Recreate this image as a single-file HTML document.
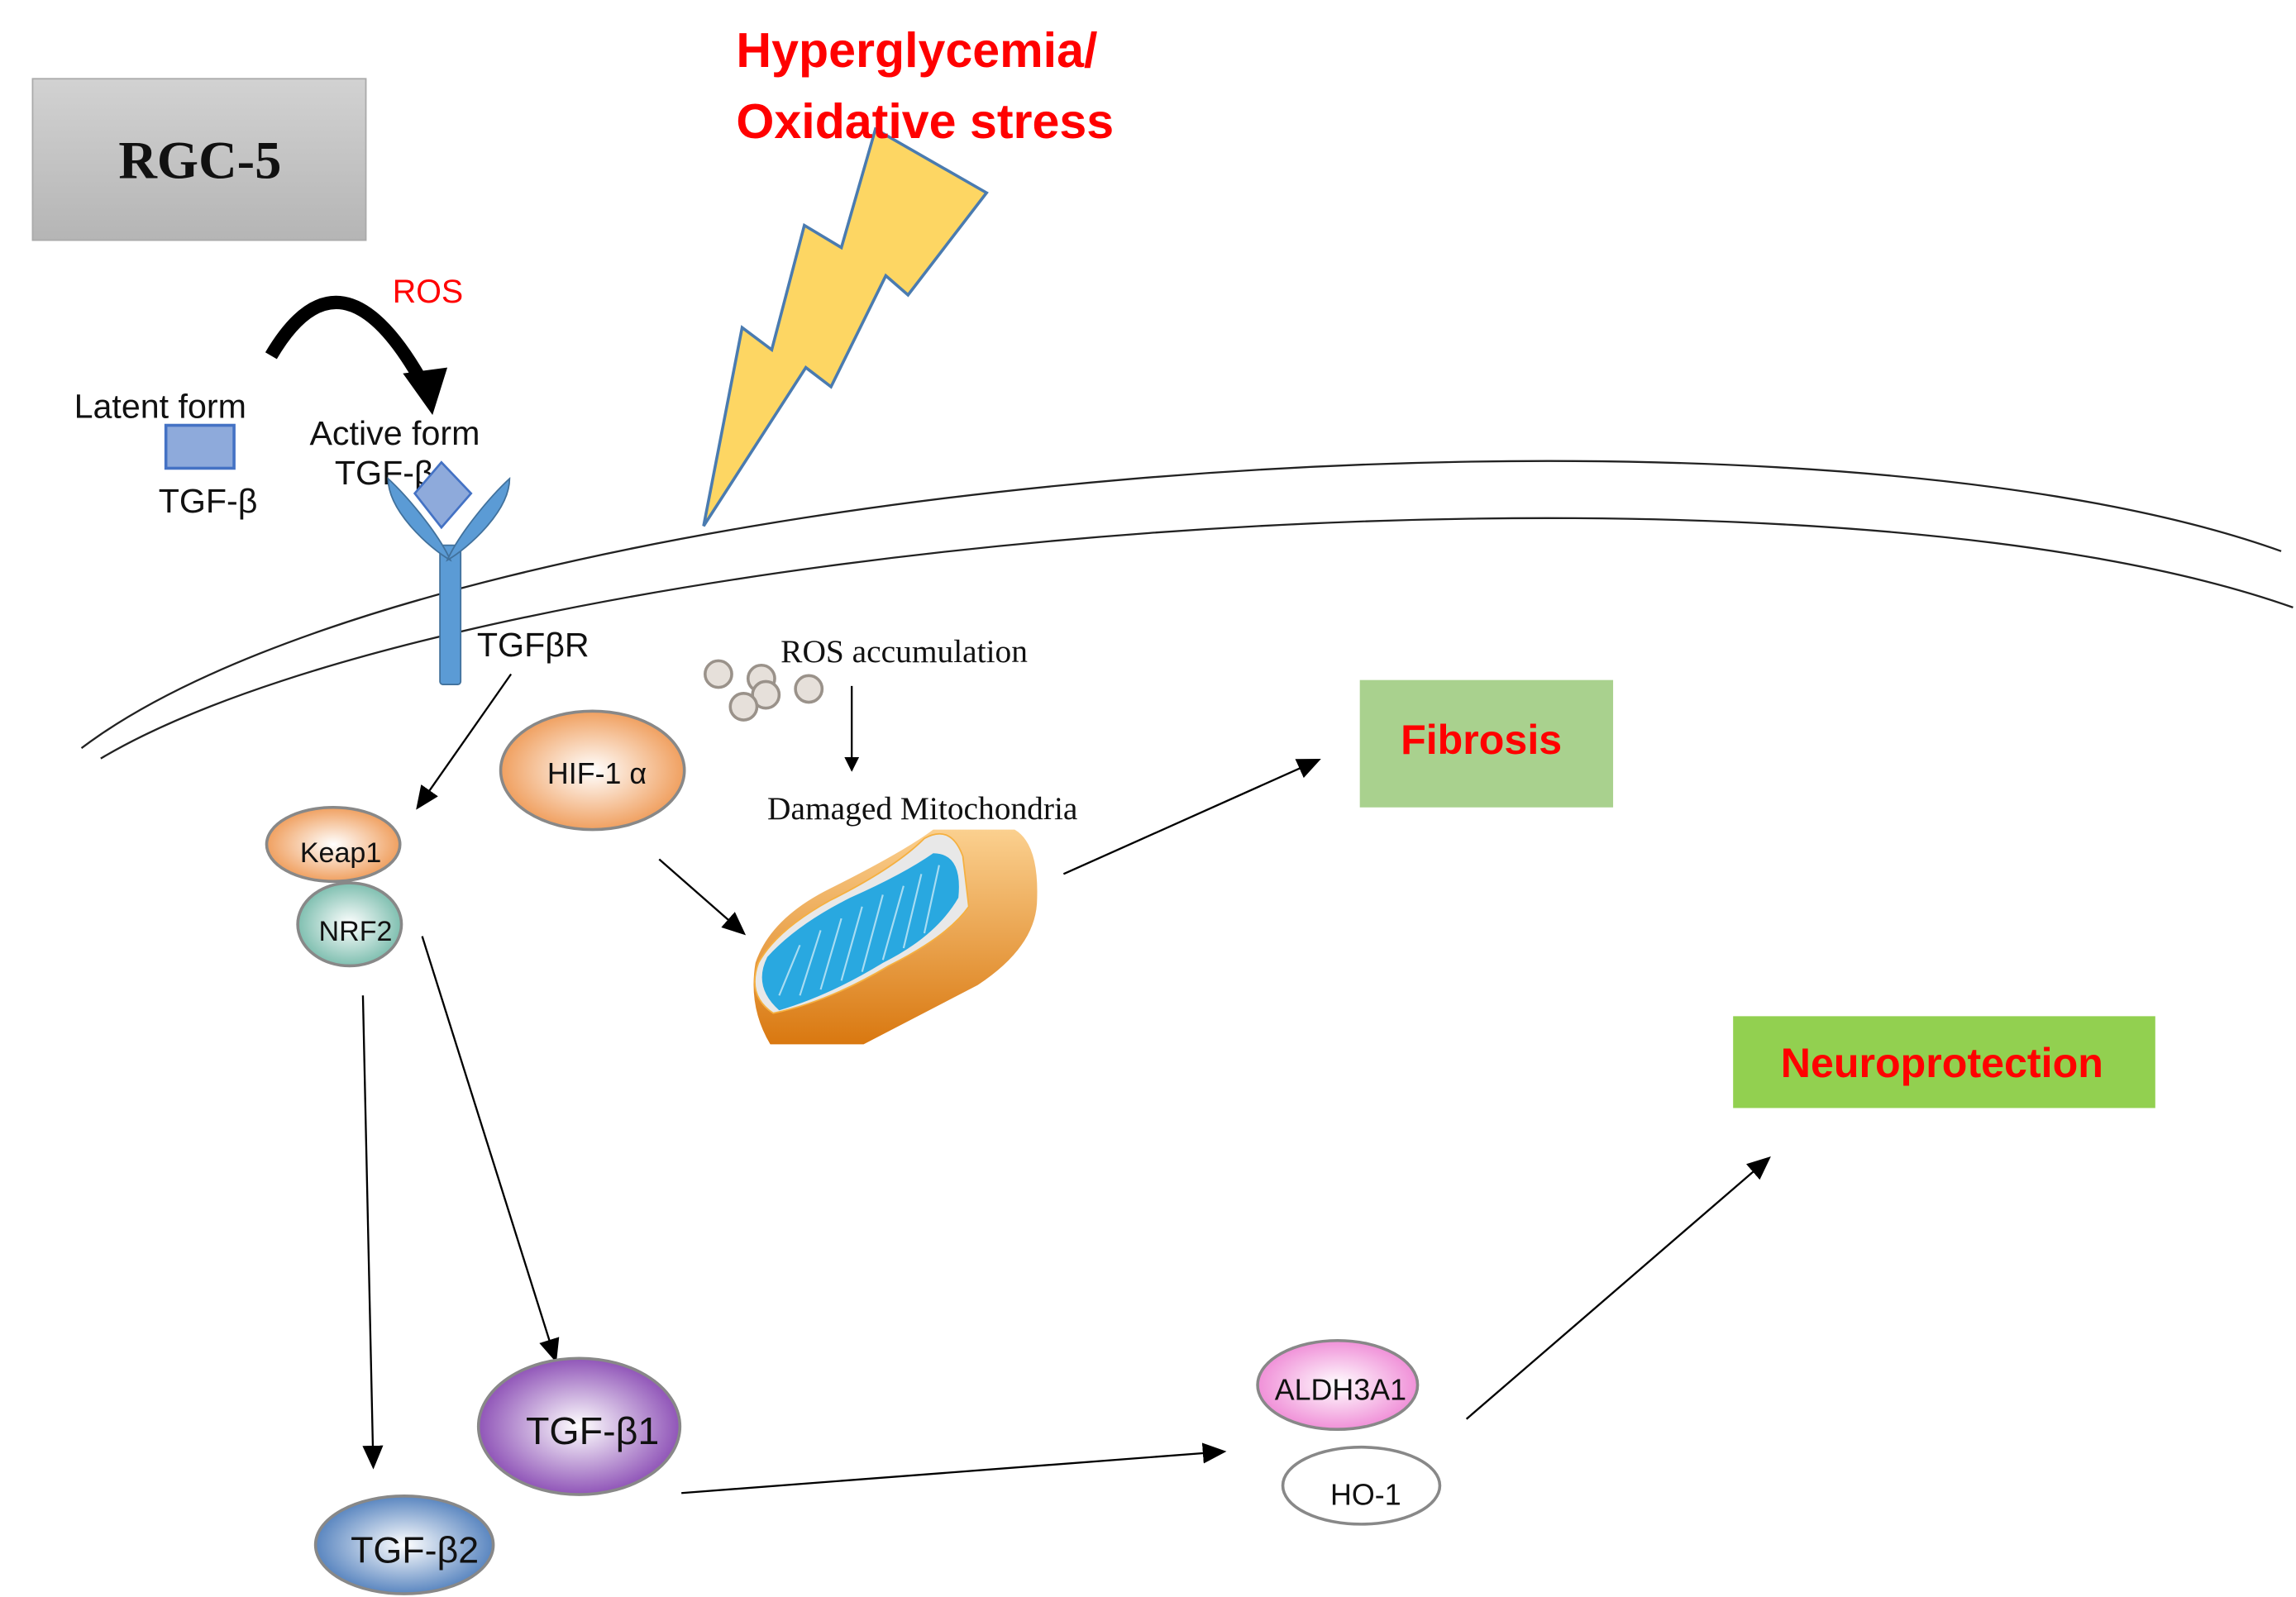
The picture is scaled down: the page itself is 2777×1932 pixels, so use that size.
<!DOCTYPE html>
<html><head><meta charset="utf-8">
<style>
html,body{margin:0;padding:0;background:#fff;}
svg{display:block;}
.sans{font-family:"Liberation Sans",sans-serif;}
.serif{font-family:"Liberation Serif",serif;}
</style></head>
<body>
<svg width="2777" height="1932" viewBox="0 0 1550 1078" xmlns="http://www.w3.org/2000/svg">
<defs>
<marker id="ah" markerWidth="10" markerHeight="10" refX="9" refY="5" orient="auto" markerUnits="userSpaceOnUse" viewBox="0 0 10 10">
<path d="M0,0 L10,5 L0,10 z" fill="#000"/></marker>
<marker id="ah2" markerWidth="16" markerHeight="16" refX="14" refY="8" orient="auto" markerUnits="userSpaceOnUse" viewBox="0 0 16 16">
<path d="M0,1 L16,8 L0,15 z" fill="#000"/></marker>
<linearGradient id="gray" x1="0" y1="0" x2="0" y2="1"><stop offset="0" stop-color="#d2d2d2"/><stop offset="1" stop-color="#b5b5b5"/></linearGradient>
<radialGradient id="org"><stop offset="0" stop-color="#fff"/><stop offset="1" stop-color="#f0a060"/></radialGradient>
<radialGradient id="teal"><stop offset="0" stop-color="#fff"/><stop offset="1" stop-color="#7fbfb0"/></radialGradient>
<radialGradient id="purp"><stop offset="0" stop-color="#fff"/><stop offset="1" stop-color="#9055b8"/></radialGradient>
<radialGradient id="blu"><stop offset="0" stop-color="#fff"/><stop offset="1" stop-color="#5a86c0"/></radialGradient>
<radialGradient id="pink"><stop offset="0" stop-color="#fff"/><stop offset="1" stop-color="#f090d8"/></radialGradient>
<linearGradient id="mito" x1="0" y1="0" x2="0" y2="1"><stop offset="0" stop-color="#fbd08f"/><stop offset="1" stop-color="#d97810"/></linearGradient>
</defs>

<rect x="22" y="53" width="225" height="109" fill="url(#gray)" stroke="#aaa" stroke-width="1"/>
<text x="135" y="120" text-anchor="middle" class="serif" font-size="36" font-weight="bold" fill="#111">RGC-5</text>

<path d="M55,505 C 300,320 1200,250 1540,372" fill="none" stroke="#222" stroke-width="1.3"/>
<path d="M68,512 C 320,362 1210,290 1548,410" fill="none" stroke="#222" stroke-width="1.3"/>

<polygon points="591,87 666,130 613,199 598,186 561,261 544,248 475,355 501,221 521,236 543,152 568,167" fill="#fdd663" stroke="#4a7bb0" stroke-width="2"/>

<text x="497" y="45" class="sans" font-size="33" font-weight="bold" fill="#f00">Hyperglycemia/</text>
<text x="497" y="93" class="sans" font-size="33" font-weight="bold" fill="#f00">Oxidative stress</text>

<text x="265" y="204" class="sans" font-size="22" fill="#f00">ROS</text>
<path d="M183,240 Q 230,160 285,258" fill="none" stroke="#000" stroke-width="9"/>
<polygon points="272,252 302,248 292,280" fill="#000"/>

<text x="50" y="282" class="sans" font-size="23" fill="#111">Latent form</text>
<rect x="112" y="287" width="46" height="29" fill="#8eaadb" stroke="#4472c4" stroke-width="2"/>
<text x="107" y="346" class="sans" font-size="23" fill="#111">TGF-β</text>
<text x="209" y="300" class="sans" font-size="23" fill="#111">Active form</text>
<text x="226" y="327" class="sans" font-size="23" fill="#111">TGF-β</text>

<rect x="297" y="368" width="14" height="94" rx="2" fill="#5b9bd5" stroke="#41719c" stroke-width="1"/>
<path d="M262,323 C 262,345 290,370 304,378 C 296,360 275,335 262,323 z" fill="#5b9bd5" stroke="#41719c"/>
<path d="M344,323 C 344,345 316,370 302,378 C 310,360 331,335 344,323 z" fill="#5b9bd5" stroke="#41719c"/>
<polygon points="298,312 318,333 298,356 280,333" fill="#8eaadb" stroke="#4472c4" stroke-width="1.5"/>
<text x="322" y="443" class="sans" font-size="23" fill="#111">TGFβR</text>

<line x1="345" y1="455" x2="282" y2="545" stroke="#000" stroke-width="1.3" marker-end="url(#ah2)"/>

<ellipse cx="225" cy="570" rx="45" ry="25" fill="url(#org)" stroke="#888" stroke-width="2"/>
<text x="230" y="582" text-anchor="middle" class="sans" font-size="19" fill="#111">Keap1</text>
<ellipse cx="236" cy="624" rx="35" ry="28" fill="url(#teal)" stroke="#888" stroke-width="2"/>
<text x="240" y="635" text-anchor="middle" class="sans" font-size="19" fill="#111">NRF2</text>

<ellipse cx="400" cy="520" rx="62" ry="40" fill="url(#org)" stroke="#888" stroke-width="2"/>
<text x="403" y="529" text-anchor="middle" class="sans" font-size="20" fill="#111">HIF-1 α</text>

<g fill="#e6e0da" stroke="#9a928a" stroke-width="2">
<circle cx="485" cy="455" r="9"/><circle cx="514" cy="458" r="9"/><circle cx="546" cy="465" r="9"/><circle cx="517" cy="469" r="9"/><circle cx="502" cy="477" r="9"/>
</g>
<text x="527" y="447" class="serif" font-size="22" fill="#111">ROS accumulation</text>
<line x1="575" y1="463" x2="575" y2="520" stroke="#000" stroke-width="1.3" marker-end="url(#ah)"/>
<text x="518" y="553" class="serif" font-size="22" fill="#111">Damaged  Mitochondria</text>

<path d="M630,560 L685,560 Q 702,570 700,610 Q 698,640 660,665 L 583,705 L 520,705 Q 505,680 510,650 Q 520,620 560,600 Q 610,575 630,560 z" fill="url(#mito)"/>
<path d="M624,566 Q 642,556 650,578 L654,612 Q 640,632 600,652 Q 560,676 522,684 Q 504,672 512,650 Q 524,628 560,608 Q 604,586 624,566 z" fill="#e8e8e8" stroke="#f5b040" stroke-width="1"/>
<path d="M630,576 Q 650,576 647,606 Q 632,632 596,650 Q 560,672 526,682 Q 508,666 518,646 Q 538,624 574,606 Q 610,590 630,576 z" fill="#29a8e0"/>
<g stroke="#a8dcf2" stroke-width="1.2">
<line x1="526" y1="672" x2="540" y2="638"/><line x1="540" y1="672" x2="554" y2="628"/><line x1="554" y1="668" x2="568" y2="620"/><line x1="568" y1="662" x2="582" y2="612"/><line x1="582" y1="656" x2="596" y2="604"/><line x1="596" y1="648" x2="610" y2="598"/><line x1="610" y1="640" x2="622" y2="590"/><line x1="624" y1="630" x2="634" y2="584"/>
</g>

<line x1="445" y1="580" x2="502" y2="630" stroke="#000" stroke-width="1.3" marker-end="url(#ah2)"/>
<line x1="718" y1="590" x2="890" y2="513" stroke="#000" stroke-width="1.3" marker-end="url(#ah2)"/>

<rect x="918" y="459" width="171" height="86" fill="#a9d18e"/>
<text x="1000" y="509" text-anchor="middle" class="sans" font-size="28" font-weight="bold" fill="#f00">Fibrosis</text>

<rect x="1170" y="686" width="285" height="62" fill="#92d050"/>
<text x="1311" y="727" text-anchor="middle" class="sans" font-size="28" font-weight="bold" fill="#f00">Neuroprotection</text>

<line x1="245" y1="672" x2="252" y2="990" stroke="#000" stroke-width="1.3" marker-end="url(#ah2)"/>
<line x1="285" y1="632" x2="375" y2="918" stroke="#000" stroke-width="1.3" marker-end="url(#ah2)"/>
<line x1="460" y1="1008" x2="826" y2="980" stroke="#000" stroke-width="1.3" marker-end="url(#ah2)"/>
<line x1="990" y1="958" x2="1194" y2="782" stroke="#000" stroke-width="1.3" marker-end="url(#ah2)"/>

<ellipse cx="391" cy="963" rx="68" ry="46" fill="url(#purp)" stroke="#888" stroke-width="2"/>
<text x="400" y="975" text-anchor="middle" class="sans" font-size="26" fill="#111">TGF-β1</text>
<ellipse cx="273" cy="1043" rx="60" ry="33" fill="url(#blu)" stroke="#888" stroke-width="2"/>
<text x="280" y="1055" text-anchor="middle" class="sans" font-size="25" fill="#111">TGF-β2</text>

<ellipse cx="903" cy="935" rx="54" ry="30" fill="url(#pink)" stroke="#888" stroke-width="2"/>
<text x="905" y="945" text-anchor="middle" class="sans" font-size="20" fill="#111">ALDH3A1</text>
<ellipse cx="919" cy="1003" rx="53" ry="26" fill="#fff" stroke="#888" stroke-width="2"/>
<text x="922" y="1016" text-anchor="middle" class="sans" font-size="20" fill="#111">HO-1</text>
</svg>
</body></html>
